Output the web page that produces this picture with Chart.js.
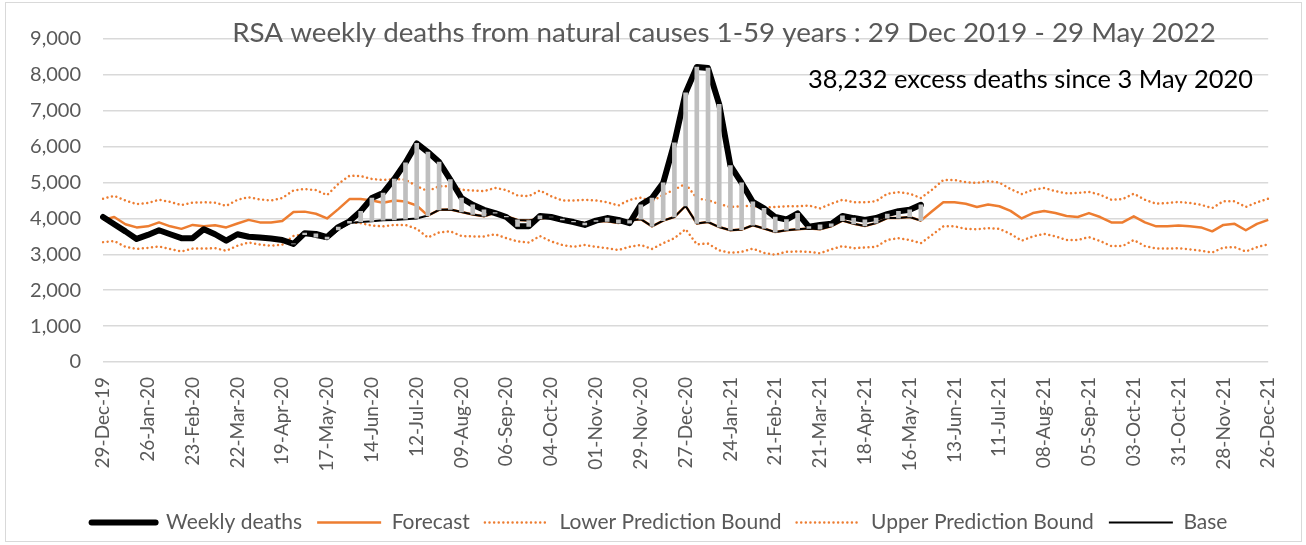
<!DOCTYPE html>
<html>
<head>
    <meta charset="UTF-8">
    <title>RSA weekly deaths</title>
    <script src="https://cdn.jsdelivr.net/npm/chart.js@4/dist/chart.umd.min.js"></script>
    <style>
        body { margin: 0; background: #fff; }
        #box { width: 1306px; height: 545px; }
    </style>
</head>
<body>
<div id="box"><canvas id="chart"></canvas></div>
<script>
    // weeks from 29 Dec 2019 to 26 Dec 2021 (105 weeks)
    var startDate = Date.UTC(2019, 11, 29);
    var weekCount = 105;
    var monthNames = ['Jan', 'Feb', 'Mar', 'Apr', 'May', 'Jun', 'Jul', 'Aug', 'Sep', 'Oct', 'Nov', 'Dec'];

    var weeklyDeaths = [
        4040, 3840, 3640, 3430, 3540, 3670, 3560, 3450, 3450, 3700,
        3560, 3380, 3560, 3490, 3470, 3440, 3400, 3290, 3590, 3570,
        3480, 3760, 3920, 4200, 4570, 4710, 5100, 5550, 6090, 5850,
        5570, 5080, 4570, 4380, 4240, 4150, 4040, 3780, 3780, 4070,
        4040, 3960, 3900, 3820, 3940, 4010, 3960, 3870, 4380, 4570,
        4990, 6110, 7500, 8220, 8190, 7180, 5470, 4990, 4460, 4280,
        4040, 3970, 4140, 3770, 3820, 3850, 4070, 4010, 3960, 4010,
        4120, 4200, 4240, 4380, null, null, null, null, null, null,
        null, null, null, null, null, null, null, null, null, null,
        null, null, null, null, null, null, null, null, null, null,
        null, null, null, null, null
    ];

    var forecast = [
        3960, 4040, 3840, 3750, 3780, 3890, 3780, 3710, 3820, 3780,
        3810, 3750, 3860, 3960, 3890, 3890, 3930, 4180, 4190, 4130,
        4000, 4260, 4540, 4540, 4500, 4440, 4500, 4470, 4360, 4080,
        4240, 4250, 4180, 4110, 4060, 4160, 4060, 3960, 3940, 3990,
        4040, 3980, 3920, 3870, 3920, 3920, 3870, 3940, 3980, 3780,
        3940, 4040, 4350, 3860, 3900, 3760, 3670, 3690, 3810, 3720,
        3620, 3670, 3700, 3720, 3700, 3780, 3940, 3850, 3790, 3870,
        4010, 4010, 4040, 3940, 4200, 4450, 4450, 4410, 4320, 4390,
        4340, 4210, 4000, 4150, 4210, 4150, 4070, 4040, 4150, 4040,
        3890, 3890, 4060, 3890, 3780, 3780, 3800, 3780, 3750, 3640,
        3820, 3850, 3670, 3850, 3960
    ];

    var lowerBound = [
        3340, 3370, 3210, 3150, 3180, 3220, 3150, 3080, 3160, 3160,
        3170, 3100, 3240, 3330, 3270, 3240, 3270, 3510, 3560, 3590,
        3450, 3730, 3890, 3870, 3800, 3780, 3820, 3820, 3710, 3470,
        3610, 3640, 3510, 3500, 3500, 3560, 3450, 3360, 3330, 3510,
        3360, 3260, 3210, 3260, 3210, 3170, 3120, 3210, 3260, 3150,
        3310, 3450, 3700, 3280, 3300, 3110, 3040, 3070, 3160, 3040,
        2990, 3070, 3080, 3070, 3030, 3140, 3230, 3170, 3190, 3210,
        3400, 3450, 3400, 3310, 3540, 3780, 3780, 3710, 3700, 3730,
        3710, 3570, 3380, 3500, 3570, 3500, 3400, 3400, 3480, 3370,
        3230, 3230, 3400, 3230, 3160, 3160, 3170, 3140, 3100, 3050,
        3190, 3200, 3080, 3200, 3280
    ];

    var upperBound = [
        4550, 4630, 4500, 4400, 4430, 4520, 4460, 4370, 4440, 4450,
        4440, 4350, 4520, 4590, 4530, 4500, 4570, 4780, 4820, 4790,
        4650, 4960, 5190, 5180, 5100, 5070, 5100, 5080, 4900, 4760,
        4900, 4900, 4800, 4780, 4760, 4850, 4790, 4640, 4620, 4780,
        4620, 4500, 4500, 4520, 4500, 4450, 4360, 4520, 4580, 4480,
        4660, 4800, 4970, 4560, 4510, 4400, 4320, 4340, 4350, 4300,
        4320, 4340, 4340, 4360, 4280, 4410, 4520, 4450, 4450, 4480,
        4690, 4730, 4690, 4570, 4800, 5070, 5070, 5010, 4990, 5040,
        5000, 4820, 4680, 4800, 4850, 4760, 4700, 4710, 4740, 4660,
        4520, 4540, 4690, 4520, 4410, 4430, 4460, 4430, 4380, 4290,
        4480, 4480, 4320, 4450, 4550
    ];

    var base = [
        null, null, null, null, null, null, null, null, null, null,
        null, null, null, null, null, null, null, 3290, 3550, 3480,
        3420, 3680, 3870, 3900, 3920, 3950, 3960, 3980, 4000, 4080,
        4240, 4250, 4180, 4110, 4060, 4160, 4060, 3960, 3940, 3990,
        4040, 3980, 3920, 3870, 3920, 3920, 3870, 3940, 3980, 3780,
        3940, 4040, 4350, 3860, 3900, 3760, 3670, 3690, 3810, 3720,
        3620, 3670, 3700, 3720, 3700, 3780, 3940, 3850, 3790, 3870,
        4010, 4010, 4040, 3940, null, null, null, null, null, null,
        null, null, null, null, null, null, null, null, null, null,
        null, null, null, null, null, null, null, null, null, null,
        null, null, null, null, null
    ];

    var titleText = 'RSA weekly deaths from natural causes 1-59 years : 29 Dec 2019 - 29 May 2022';
    var noteText = '38,232 excess deaths since 3 May 2020';

    var weekLabels = [];
    for (var i = 0; i < weekCount; i++) {
        var d = new Date(startDate + i * 7 * 86400000);
        var dd = ('0' + d.getUTCDate()).slice(-2);
        var yy = String(d.getUTCFullYear()).slice(-2);
        weekLabels.push(dd + '-' + monthNames[d.getUTCMonth()] + '-' + yy);
    }

    // grey bars between base and weekly deaths
    var excessBars = weeklyDeaths.map(function (w, i) {
        if (w === null || base[i] === null) return null;
        return [base[i], w];
    });

    var FONT = 'Lato, "Open Sans", sans-serif';
    var GREY = '#595959';
    var ORANGE = '#ED7D31';

    function fitFont(ctx, text, width, weight) {
        ctx.font = (weight || '') + ' 100px ' + FONT;
        var size = 100 * width / ctx.measureText(text).width;
        ctx.font = (weight || '') + ' ' + size.toFixed(2) + 'px ' + FONT;
    }

    var framePlugin = {
        id: 'frame',
        afterLayout: function (chart) {
            // legend sits a little right of centre in the original
            if (chart.legend) {
                chart.legend.left += 20;
                chart.legend.right += 20;
            }
        },
        beforeDraw: function (chart) {
            var ctx = chart.ctx;
            ctx.save();
            ctx.fillStyle = '#ffffff';
            ctx.fillRect(0, 0, chart.width, chart.height);
            ctx.strokeStyle = '#D9D9D9';
            ctx.lineWidth = 1;
            ctx.strokeRect(5.5, 2.5, 1296, 539);
            ctx.restore();
        },
        afterDraw: function (chart) {
            var ctx = chart.ctx;
            ctx.save();
            ctx.textBaseline = 'alphabetic';
            ctx.fillStyle = GREY;
            fitFont(ctx, titleText, 984);
            ctx.textAlign = 'center';
            ctx.fillText(titleText, 724, 42);
            ctx.fillStyle = '#000000';
            fitFont(ctx, noteText, 445);
            ctx.textAlign = 'left';
            ctx.fillText(noteText, 808, 88);
            ctx.restore();
        }
    };

    var chart = new Chart(document.getElementById('chart'), {
        data: {
            labels: weekLabels,
            datasets: [{
                type: 'line',
                label: 'Weekly deaths',
                data: weeklyDeaths,
                borderColor: '#000000',
                backgroundColor: '#000000',
                borderWidth: 6,
                borderJoinStyle: 'round',
                borderCapStyle: 'round',
                pointRadius: 0,
                fill: false,
                order: 3
            }, {
                type: 'line',
                label: 'Forecast',
                data: forecast,
                borderColor: ORANGE,
                backgroundColor: ORANGE,
                borderWidth: 2.5,
                borderJoinStyle: 'round',
                pointRadius: 0,
                fill: false,
                order: 4
            }, {
                type: 'line',
                label: 'Lower Prediction Bound',
                data: lowerBound,
                borderColor: ORANGE,
                backgroundColor: ORANGE,
                borderWidth: 2.5,
                borderDash: [0.01, 4.6],
                borderCapStyle: 'round',
                pointRadius: 0,
                fill: false,
                order: 6
            }, {
                type: 'line',
                label: 'Upper Prediction Bound',
                data: upperBound,
                borderColor: ORANGE,
                backgroundColor: ORANGE,
                borderWidth: 2.5,
                borderDash: [0.01, 4.6],
                borderCapStyle: 'round',
                pointRadius: 0,
                fill: false,
                order: 5
            }, {
                type: 'line',
                label: 'Base',
                data: base,
                borderColor: '#000000',
                backgroundColor: '#000000',
                borderWidth: 2,
                borderJoinStyle: 'round',
                pointRadius: 0,
                fill: false,
                order: 2
            }, {
                type: 'bar',
                label: 'Excess',
                data: excessBars,
                backgroundColor: '#BFBFBF',
                barThickness: 4,
                order: 1
            }]
        },
        options: {
            responsive: true,
            maintainAspectRatio: false,
            animation: false,
            layout: { padding: { left: 0, right: 27, top: 39, bottom: 2 } },
            plugins: {
                title: { display: false },
                tooltip: { enabled: false },
                legend: {
                    position: 'bottom',
                    labels: {
                        usePointStyle: true,
                        pointStyle: 'line',
                        pointStyleWidth: 64,
                        padding: 15,
                        color: GREY,
                        font: { family: FONT, size: 21 },
                        generateLabels: function (chart) {
                            return chart.data.datasets.map(function (ds, i) {
                                return {
                                    text: ds.label,
                                    datasetIndex: i,
                                    fillStyle: ds.borderColor,
                                    strokeStyle: ds.borderColor,
                                    lineWidth: ds.borderWidth,
                                    lineDash: ds.borderDash || [],
                                    lineCap: ds.borderCapStyle || 'butt',
                                    pointStyle: 'line',
                                    fontColor: GREY,
                                    hidden: false
                                };
                            }).filter(function (item) { return item.text !== 'Excess'; });
                        }
                    }
                }
            },
            scales: {
                x: {
                    type: 'category',
                    offset: false,
                    grid: { display: false, drawTicks: false },
                    border: { display: false },
                    afterFit: function (scale) { scale.height = 135; },
                    ticks: {
                        autoSkip: false,
                        minRotation: 90,
                        maxRotation: 90,
                        padding: 15,
                        color: GREY,
                        font: { family: FONT, size: 19 },
                        callback: function (val, idx) {
                            return idx % 4 === 0 ? this.getLabelForValue(val) : '';
                        }
                    }
                },
                y: {
                    min: 0,
                    max: 9000,
                    afterFit: function (scale) { scale.width = 103; },
                    grid: { color: '#D9D9D9', lineWidth: 1.5, drawTicks: false },
                    border: { display: false },
                    ticks: {
                        stepSize: 1000,
                        padding: 22,
                        color: GREY,
                        font: { family: FONT, size: 20 },
                        callback: function (v) { return v.toLocaleString('en-US'); }
                    }
                }
            }
        },
        plugins: [framePlugin]
    });
</script>
</body>
</html>
